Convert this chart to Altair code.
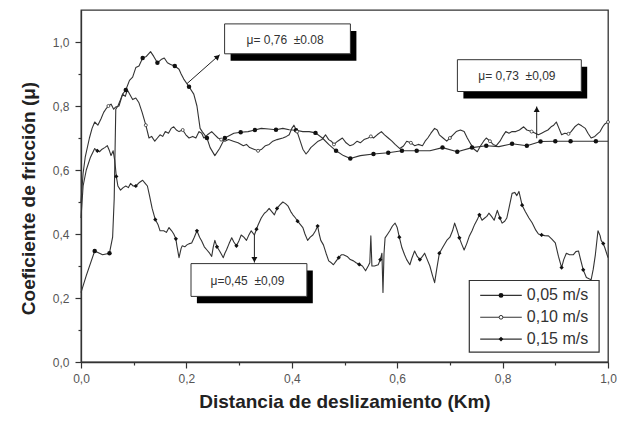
import altair as alt
import pandas as pd

# ---------------- data ----------------
series_names = ["0,05 m/s", "0,10 m/s", "0,15 m/s"]

# 0,05 m/s  (filled circles)
a_x = [0.0, 0.01, 0.026, 0.041, 0.054, 0.06, 0.063, 0.066, 0.07, 0.075, 0.079, 0.085, 0.092, 0.098,
       0.104, 0.11, 0.117, 0.124, 0.132, 0.138, 0.145, 0.152, 0.158, 0.164, 0.17, 0.178, 0.186, 0.19,
       0.195, 0.205, 0.214, 0.22, 0.226, 0.23, 0.239, 0.245, 0.254, 0.263, 0.273, 0.29, 0.303, 0.317,
       0.33, 0.342, 0.356, 0.37, 0.383, 0.395, 0.408, 0.421, 0.433, 0.445, 0.458, 0.47, 0.484, 0.498,
       0.511, 0.53, 0.555, 0.583, 0.609, 0.637, 0.662, 0.686, 0.714, 0.742, 0.769, 0.793, 0.818, 0.846,
       0.872, 0.9, 0.929, 0.953, 0.977, 1.0]
a_y = [0.217, 0.27, 0.347, 0.335, 0.34, 0.39, 0.51, 0.79, 0.80, 0.82, 0.837, 0.85, 0.88, 0.89,
       0.92, 0.925, 0.95, 0.955, 0.97, 0.955, 0.935, 0.945, 0.95, 0.935, 0.93, 0.925, 0.915, 0.90,
       0.884, 0.86, 0.837, 0.80, 0.73, 0.72, 0.70, 0.67, 0.645, 0.667, 0.70, 0.715, 0.718, 0.72,
       0.725, 0.73, 0.728, 0.726, 0.73, 0.726, 0.724, 0.72, 0.72, 0.716, 0.70, 0.68, 0.66, 0.645,
       0.636, 0.645, 0.65, 0.654, 0.66, 0.66, 0.66, 0.67, 0.657, 0.67, 0.676, 0.673, 0.682, 0.676,
       0.689, 0.69, 0.69, 0.69, 0.69, 0.69]

# 0,10 m/s  (open circles)
b_x = [0.0, 0.004, 0.008, 0.016, 0.021, 0.026, 0.032, 0.038, 0.043, 0.047, 0.052, 0.057, 0.062, 0.066,
       0.072, 0.079, 0.084, 0.088, 0.093, 0.098, 0.104, 0.11, 0.116, 0.123, 0.129, 0.134, 0.14, 0.145,
       0.15, 0.155, 0.16, 0.166, 0.171, 0.176, 0.181, 0.186, 0.193, 0.199, 0.205, 0.212, 0.218, 0.224,
       0.229, 0.233, 0.24, 0.248, 0.254, 0.26, 0.266, 0.273, 0.28, 0.289, 0.298, 0.308, 0.314, 0.32,
       0.328, 0.336, 0.343, 0.35, 0.357, 0.364, 0.372, 0.383, 0.39, 0.395, 0.4, 0.404, 0.41, 0.416,
       0.421, 0.427, 0.432, 0.436, 0.443, 0.45, 0.457, 0.464, 0.47, 0.475, 0.48, 0.487, 0.496, 0.503,
       0.51, 0.517, 0.524, 0.53, 0.537, 0.545, 0.55, 0.555, 0.562, 0.57, 0.576, 0.583, 0.59, 0.596,
       0.605, 0.612, 0.618, 0.626, 0.633, 0.64, 0.648, 0.653, 0.658, 0.664, 0.671, 0.676, 0.68, 0.687,
       0.694, 0.7, 0.706, 0.712, 0.72, 0.727, 0.733, 0.74, 0.746, 0.752, 0.758, 0.764, 0.769, 0.776,
       0.782, 0.788, 0.795, 0.8, 0.806, 0.812, 0.818, 0.825, 0.832, 0.84, 0.846, 0.855, 0.862, 0.868,
       0.874, 0.88, 0.886, 0.892, 0.897, 0.902, 0.907, 0.912, 0.918, 0.925, 0.93, 0.937, 0.944, 0.95,
       0.957, 0.962, 0.968, 0.975, 0.98, 0.985, 0.99, 0.994, 1.0]
b_y = [0.50, 0.59, 0.64, 0.70, 0.73, 0.75, 0.74, 0.76, 0.78, 0.79, 0.80, 0.806, 0.79, 0.797,
       0.80, 0.837, 0.83, 0.85, 0.835, 0.82, 0.825, 0.81, 0.78, 0.74, 0.70, 0.705, 0.69, 0.70,
       0.71, 0.705, 0.72, 0.715, 0.73, 0.735, 0.725, 0.72, 0.725, 0.71, 0.70, 0.705, 0.70, 0.72,
       0.715, 0.70, 0.71, 0.72, 0.71, 0.70, 0.695, 0.69, 0.695, 0.69, 0.685, 0.676, 0.68, 0.67,
       0.665, 0.66, 0.665, 0.676, 0.68, 0.69, 0.695, 0.70, 0.705, 0.71, 0.73, 0.74, 0.72, 0.69,
       0.665, 0.65, 0.66, 0.67, 0.68, 0.69, 0.695, 0.71, 0.695, 0.69, 0.68, 0.69, 0.70, 0.685,
       0.676, 0.68, 0.69, 0.685, 0.695, 0.70, 0.705, 0.70, 0.71, 0.72, 0.71, 0.70, 0.69, 0.68,
       0.667, 0.675, 0.69, 0.685, 0.676, 0.68, 0.676, 0.69, 0.70, 0.715, 0.73, 0.725, 0.71, 0.70,
       0.69, 0.70, 0.71, 0.72, 0.725, 0.72, 0.70, 0.68, 0.665, 0.657, 0.675, 0.69, 0.70, 0.69,
       0.68, 0.676, 0.69, 0.705, 0.72, 0.715, 0.72, 0.72, 0.725, 0.735, 0.725, 0.72, 0.715, 0.71,
       0.715, 0.72, 0.725, 0.735, 0.74, 0.75, 0.73, 0.71, 0.715, 0.713, 0.72, 0.735, 0.744, 0.738,
       0.73, 0.715, 0.70, 0.705, 0.713, 0.72, 0.735, 0.744, 0.75]

# 0,15 m/s  (filled diamonds)
c_x = [0.0, 0.004, 0.01, 0.018, 0.026, 0.031, 0.035, 0.04, 0.045, 0.05, 0.054, 0.057, 0.061, 0.064,
       0.067, 0.07, 0.075, 0.08, 0.085, 0.09, 0.094, 0.099, 0.104, 0.11, 0.117, 0.121, 0.126, 0.13,
       0.135, 0.141, 0.146, 0.15, 0.157, 0.162, 0.167, 0.172, 0.176, 0.18, 0.182, 0.186, 0.19, 0.192,
       0.197, 0.201, 0.206, 0.21, 0.215, 0.22, 0.225, 0.229, 0.234, 0.239, 0.244, 0.248, 0.251, 0.254,
       0.258, 0.263, 0.267, 0.27, 0.273, 0.276, 0.281, 0.286, 0.29, 0.295, 0.3, 0.304, 0.309, 0.314,
       0.318, 0.323, 0.329, 0.333, 0.336, 0.342, 0.348, 0.352, 0.357, 0.362, 0.367, 0.372, 0.377, 0.383,
       0.388, 0.393, 0.398, 0.402, 0.407, 0.411, 0.416, 0.421, 0.425, 0.43, 0.435, 0.44, 0.445, 0.449,
       0.452, 0.455, 0.46, 0.465, 0.47, 0.475, 0.479, 0.484, 0.489, 0.494, 0.498, 0.505, 0.511, 0.517,
       0.522, 0.528, 0.534, 0.54, 0.545, 0.548, 0.55, 0.552, 0.557, 0.564, 0.568, 0.571, 0.573, 0.575,
       0.577, 0.582, 0.586, 0.591, 0.596, 0.6, 0.604, 0.609, 0.614, 0.618, 0.624, 0.628, 0.633, 0.638,
       0.643, 0.648, 0.652, 0.657, 0.662, 0.667, 0.671, 0.675, 0.68, 0.687, 0.694, 0.7, 0.705, 0.709,
       0.714, 0.718, 0.722, 0.727, 0.732, 0.737, 0.742, 0.747, 0.752, 0.756, 0.761, 0.766, 0.77, 0.774,
       0.779, 0.784, 0.79, 0.795, 0.799, 0.804, 0.808, 0.812, 0.818, 0.823, 0.827, 0.831, 0.837, 0.843,
       0.85, 0.856, 0.863, 0.868, 0.874, 0.88, 0.887, 0.893, 0.9, 0.906, 0.912, 0.916, 0.921, 0.927,
       0.934, 0.939, 0.944, 0.948, 0.953, 0.959, 0.964, 0.968, 0.972, 0.976, 0.981, 0.985, 0.987, 0.991,
       0.994, 1.0]
c_y = [0.45, 0.55, 0.60, 0.64, 0.667, 0.66, 0.657, 0.665, 0.67, 0.676, 0.66, 0.645, 0.66, 0.63,
       0.58, 0.55, 0.537, 0.545, 0.55, 0.545, 0.558, 0.55, 0.55, 0.56, 0.568, 0.56, 0.55, 0.52,
       0.48, 0.445, 0.43, 0.41, 0.41, 0.405, 0.42, 0.41, 0.40, 0.385, 0.363, 0.326, 0.355, 0.363,
       0.36, 0.366, 0.37, 0.372, 0.39, 0.41, 0.39, 0.378, 0.36, 0.35, 0.34, 0.33, 0.36, 0.38,
       0.36, 0.347, 0.335, 0.326, 0.34, 0.35, 0.37, 0.388, 0.375, 0.363, 0.38, 0.397, 0.39, 0.38,
       0.395, 0.41, 0.397, 0.415, 0.428, 0.45, 0.465, 0.47, 0.48, 0.47, 0.46, 0.48, 0.49, 0.50,
       0.495, 0.487, 0.47, 0.46, 0.45, 0.44, 0.43, 0.42, 0.40, 0.38, 0.39, 0.397, 0.41, 0.425,
       0.40, 0.38, 0.366, 0.34, 0.316, 0.31, 0.304, 0.315, 0.326, 0.335, 0.335, 0.33, 0.32, 0.316,
       0.31, 0.305, 0.30, 0.285, 0.30, 0.31, 0.394, 0.30, 0.30, 0.304, 0.32, 0.34, 0.217, 0.34,
       0.388, 0.40, 0.41, 0.425, 0.434, 0.42, 0.39, 0.357, 0.335, 0.32, 0.304, 0.325, 0.347, 0.33,
       0.32, 0.33, 0.34, 0.32, 0.30, 0.27, 0.248, 0.29, 0.34, 0.36, 0.38, 0.39, 0.41, 0.434,
       0.41, 0.388, 0.37, 0.35, 0.37, 0.394, 0.41, 0.43, 0.445, 0.46, 0.443, 0.45, 0.455, 0.465,
       0.455, 0.443, 0.474, 0.45, 0.434, 0.44, 0.45, 0.48, 0.527, 0.53, 0.52, 0.533, 0.49, 0.47,
       0.45, 0.435, 0.412, 0.40, 0.397, 0.395, 0.394, 0.385, 0.372, 0.33, 0.295, 0.32, 0.34, 0.335,
       0.335, 0.345, 0.347, 0.32, 0.288, 0.264, 0.26, 0.257, 0.29, 0.335, 0.41, 0.395, 0.38, 0.37,
       0.357, 0.326]

tick_values = [0.0, 0.1, 0.2, 0.3, 0.4, 0.5, 0.6, 0.7, 0.8, 0.9, 1.0]
ann_texts = ["\u03bc= 0,76 \u00a0\u00b10.08", "\u03bc= 0,73 \u00a0\u00b10,09", "\u03bc=0,45 \u00a0\u00b10,09"]

# ---------------- build tables ----------------
frames = []
for name, xs, ys in zip(series_names, [a_x, b_x, c_x], [a_y, b_y, c_y]):
    frames.append(pd.DataFrame({"series": name, "x": xs, "y": ys, "idx": list(range(len(xs)))}))
df = pd.concat(frames, ignore_index=True)


def thin(frame, step, start):
    """keep every recorded point that lies at least `step` after the last kept one"""
    keep, last = [], start - step
    for i, xv in enumerate(frame["x"]):
        if xv >= start and xv - last >= step:
            keep.append(i)
            last = xv
    return frame.iloc[keep]


mk_a = thin(frames[0], 0.026, 0.026)
mk_b = thin(frames[1], 0.07, 0.05)
mk_c = thin(frames[2], 0.036, 0.03)

W, H = 527, 352
SX, SY = W / 532.0, H / 354.0     # layout below was measured on a 532 x 354 plot
INK = "#333333"
FONT = "Liberation Sans"

minor_test = "round(datum.value*10) % 2 == 1"
label_expr = f"{minor_test} ? '' : replace(format(datum.value, '.1f'), '.', ',')"
tick_size = {"condition": {"test": minor_test, "value": 3}, "value": 6}

x_enc = alt.X("x:Q", scale=alt.Scale(domain=[0, 1], nice=False, zero=False),
              axis=alt.Axis(values=tick_values, labelExpr=label_expr, tickSize=tick_size,
                            title="Distancia de deslizamiento (Km)", grid=False,
                            labelPadding=5, titlePadding=8, labelFlush=False))
y_enc = alt.Y("y:Q", scale=alt.Scale(domain=[0, 1.1], nice=False, zero=False),
              axis=alt.Axis(values=tick_values, labelExpr=label_expr, tickSize=tick_size,
                            title="Coeficiente de fricci\u00f3n (\u03bc)", grid=False,
                            labelPadding=6, titlePadding=14, titleY=H / 2 + 12))

lines = alt.Chart(df).mark_line(color=INK, strokeWidth=1.1, strokeJoin="round").encode(
    x=x_enc, y=y_enc, detail="series:N", order="idx:Q")
pts_a = alt.Chart(mk_a).mark_point(shape="circle", filled=True, size=20, color="#111", opacity=1).encode(x=x_enc, y=y_enc)
pts_b = alt.Chart(mk_b).mark_point(shape="circle", filled=True, size=9, fill="white", stroke=INK,
                                   strokeWidth=0.8, opacity=1).encode(x=x_enc, y=y_enc)
pts_c = alt.Chart(mk_c).mark_point(shape="diamond", filled=True, size=18, color="#111", opacity=1).encode(x=x_enc, y=y_enc)

one = pd.DataFrame({"k": [0]})


def px(v):
    return alt.value(round(v * SX, 1))


def py(v):
    return alt.value(round(v * SY, 1))


def box(x1, y1, x2, y2, text, tx, ty, off=6):
    shadow = alt.Chart(one).mark_rect(color="black").encode(
        x=px(x1 + off), x2=px(x2 + off), y=py(y1 + off + 1), y2=py(y2 + off + 1))
    face = alt.Chart(one).mark_rect(fill="white", stroke="#333", strokeWidth=1).encode(
        x=px(x1), x2=px(x2), y=py(y1), y2=py(y2))
    label = alt.Chart(pd.DataFrame({"t": [text]})).mark_text(
        font=FONT, fontSize=12, color="#333", align="center", baseline="middle").encode(
        x=px(tx), y=py(ty), text="t:N")
    return [shadow, face, label]


def arrow(x1, y1, x2, y2, hx, hy, ang):
    shaft = alt.Chart(one).mark_rule(color="#222", strokeWidth=1).encode(
        x=px(x1), y=py(y1), x2=px(x2), y2=py(y2))
    head = alt.Chart(one).mark_point(shape="triangle-up", filled=True, size=36, color="#111",
                                     opacity=1, angle=ang).encode(x=px(hx), y=py(hy))
    return [shaft, head]


ann = []
ann += arrow(107, 74, 140, 45, 138, 47, 49)
ann += box(145, 14, 272, 44, ann_texts[0], 206, 30)
ann += arrow(460, 129, 460, 97, 460, 100, 0)
ann += box(380, 50, 505, 82, ann_texts[1], 440, 66)
ann += arrow(175, 226, 175, 254, 175, 251, 180)
ann += box(111, 255, 228, 288, ann_texts[2], 168, 272)

# legend (drawn by hand: line with marker in the middle)
leg = [alt.Chart(one).mark_rect(fill="white", stroke="#333", strokeWidth=1.2).encode(
    x=px(392), x2=px(523), y=py(272), y2=py(344))]
row_y = [287, 309, 331]
for i, name in enumerate(series_names):
    yy = row_y[i]
    leg.append(alt.Chart(one).mark_rule(color=INK, strokeWidth=1.1).encode(
        x=px(403), x2=px(445), y=py(yy)))
    if i == 1:
        mk = alt.Chart(one).mark_point(shape="circle", filled=True, size=14, fill="white", stroke=INK,
                                       strokeWidth=1, opacity=1)
    elif i == 0:
        mk = alt.Chart(one).mark_point(shape="circle", filled=True, size=24, color="#111", opacity=1)
    else:
        mk = alt.Chart(one).mark_point(shape="diamond", filled=True, size=22, color="#111", opacity=1)
    leg.append(mk.encode(x=px(424), y=py(yy)))
    leg.append(alt.Chart(pd.DataFrame({"t": [name]})).mark_text(
        font=FONT, fontSize=16, color="#333", align="left", baseline="middle").encode(
        x=px(450), y=py(yy), text="t:N"))

chart = alt.layer(lines, pts_a, pts_b, pts_c, *ann, *leg).properties(
    width=W, height=H,
    autosize=alt.AutoSizeParams(type="none"),
    padding={"left": 73, "top": 2, "right": 9, "bottom": 54},
    background="white",
).configure_view(
    stroke="#333", strokeWidth=1.3
).configure_axis(
    domainColor="#333", domainWidth=1.3, tickColor="#333", tickWidth=1.2,
    labelFont=FONT, labelFontSize=12, labelColor="#555",
    titleFont=FONT, titleFontSize=19, titleFontWeight="bold", titleColor="#222",
)

chart.save("out.html", embed_options={"renderer": "svg", "actions": False})
